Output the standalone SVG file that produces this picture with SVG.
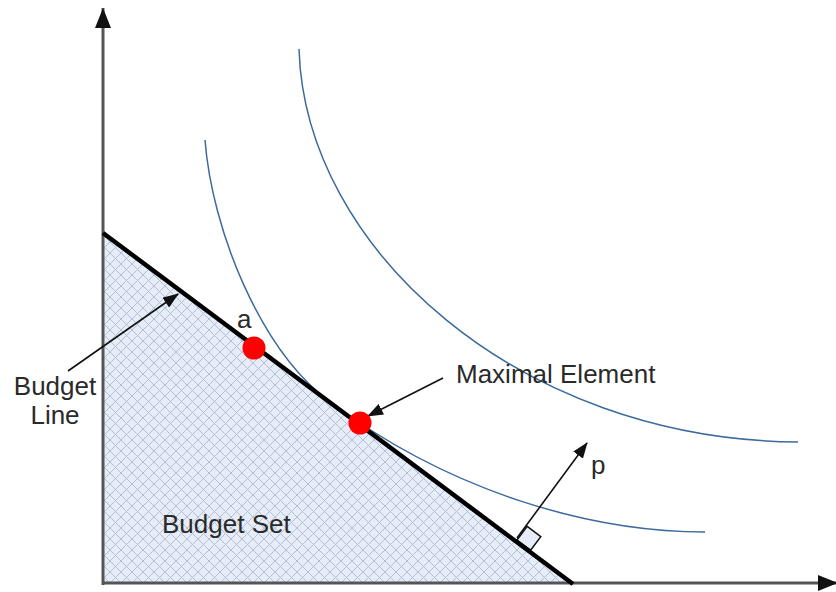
<svg xmlns="http://www.w3.org/2000/svg" width="836" height="592" viewBox="0 0 836 592">
<style>
.lbl{font-family:"Liberation Sans",Arial,sans-serif;font-size:26px;fill:#2a2a2a}
.curve{fill:none;stroke:#3d6a9c;stroke-width:1.5}
.arr{fill:none;stroke:#111;stroke-width:1.6}
.axis{fill:none;stroke:#555;stroke-width:3}
.dot{fill:#ff0000}
</style>
<defs>
<pattern id="hatch" patternUnits="userSpaceOnUse" width="11" height="11">
<rect width="11" height="11" fill="#e6edf8"/>
<path d="M0,0 L11,11 M11,0 L0,11" stroke="#b2c0d6" stroke-width="1"/>
</pattern>
<marker id="ah" markerUnits="userSpaceOnUse" markerWidth="16" markerHeight="12" refX="15" refY="6" orient="auto">
<path d="M0,0 L16,6 L0,12 z" fill="#111"/>
</marker>
<marker id="axh" markerUnits="userSpaceOnUse" markerWidth="20" markerHeight="16" refX="20" refY="8" orient="auto">
<path d="M0,0 L20,8 L0,16 z" fill="#111"/>
</marker>
</defs>
<g id="budget-set">
<polygon points="103,233 573,584 103,584" fill="url(#hatch)"/>
</g>
<g id="axes">
<path class="axis" d="M103,585 L103,8" marker-end="url(#axh)"/>
<path class="axis" d="M102,583 L838,583" marker-end="url(#axh)"/>
</g>
<g id="indifference-curves">
<path class="curve" d="M205,140 C212,230 260,349.7 330,402 C450,491.6 590,532 705,532"/>
<path class="curve" d="M299,49 C305,250 520,440 798,442"/>
</g>
<g id="right-angle">
<polygon points="517,540 527.2,526.4 540.8,536.6 530.6,550.2" fill="#e6edf8" stroke="#111" stroke-width="1.5"/>
</g>
<g id="budget-line">
<line x1="103" y1="233" x2="573" y2="584" stroke="#000" stroke-width="4.5"/>
</g>
<g id="connectors">
<line class="arr" x1="68" y1="371" x2="178" y2="294" marker-end="url(#ah)"/>
<line class="arr" x1="443" y1="378" x2="368" y2="416" marker-end="url(#ah)"/>
<line class="arr" x1="517" y1="538" x2="587" y2="443" marker-end="url(#ah)"/>
</g>
<g id="point-a">
<circle class="dot" cx="254" cy="348" r="11.5"/>
<text class="lbl" x="237" y="328">a</text>
</g>
<g id="maximal-element">
<circle class="dot" cx="360" cy="423" r="11.5"/>
<text class="lbl" x="456" y="383">Maximal Element</text>
</g>
<g id="budget-line-label">
<text class="lbl" x="55" y="395" text-anchor="middle">Budget</text>
<text class="lbl" x="55" y="424" text-anchor="middle">Line</text>
</g>
<g id="budget-set-label">
<text class="lbl" x="162" y="533">Budget Set</text>
</g>
<g id="p-label">
<text class="lbl" x="591" y="474">p</text>
</g>
</svg>
